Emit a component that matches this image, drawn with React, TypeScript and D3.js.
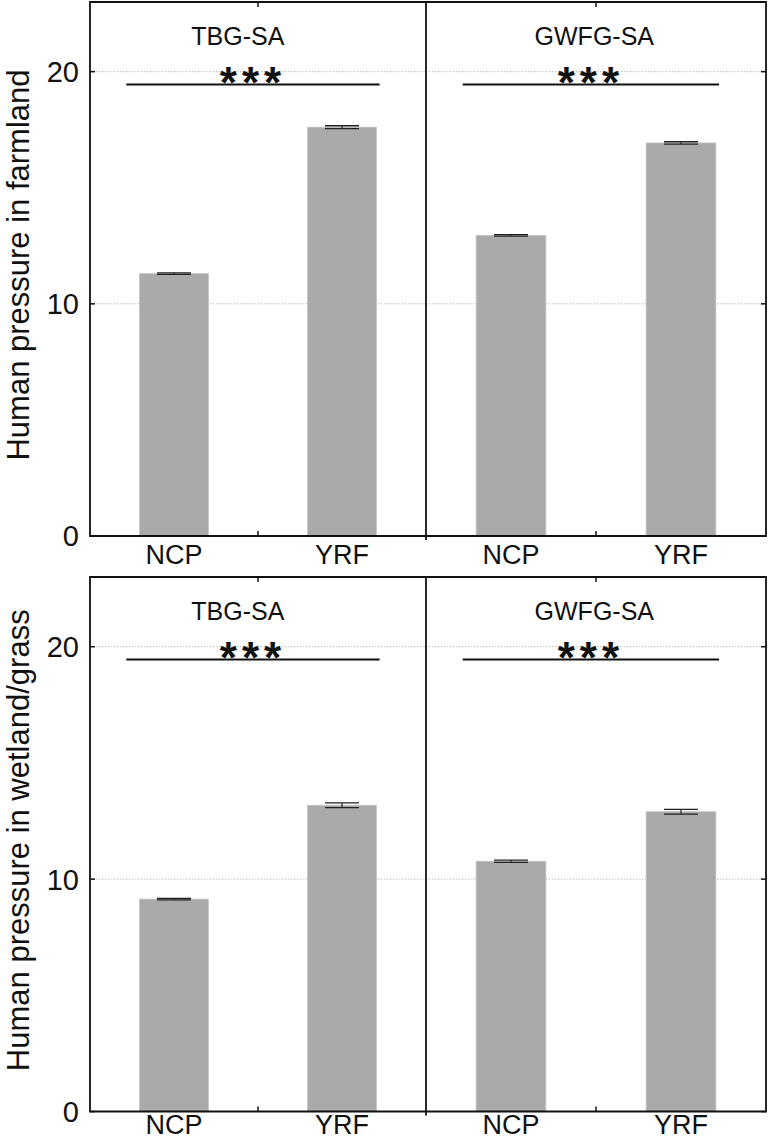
import React from "react";
import * as d3 from "d3";

const groups = ["TBG-SA", "GWFG-SA"];
const regions = ["NCP", "YRF"];
const rowLabels = ["Human pressure in farmland", "Human pressure in wetland/grass"];
// [row][group][region]
const farmlandMean = [[11.3, 17.61], [12.95, 16.93]];
const farmlandErr = [[0.03, 0.06], [0.03, 0.05]];
const wetlandMean = [[9.14, 13.18], [10.77, 12.9]];
const wetlandErr = [[0.03, 0.1], [0.05, 0.1]];
const sigLabels = [["***", "***"], ["***", "***"]];
const sigValue = 19.45;
const yTicks = [0, 10, 20];
const yMax = 23;

const means = [farmlandMean, wetlandMean];
const errs = [farmlandErr, wetlandErr];

const W = 768;
const H = 1140;
const xLeft = 90;
const xMid = 426;
const xRight = 766;
const rows = [
  { top: 2, bottom: 536, labelGap: 28 },
  { top: 577, bottom: 1111.5, labelGap: 22.5 },
];
const titleFrac = [0.44, 0.495];
const sigFrac = [0.108, 0.862];
const FONT = "'Liberation Sans', Arial, sans-serif";
const STROKE = "#111";

export default function App() {
  const panels = [
    [xLeft, xMid],
    [xMid, xRight],
  ];
  return (
    <svg width={W} height={H} style={{ display: "block", position: "absolute", left: 0, top: 0, background: "#fff" }}>
      <rect x={0} y={0} width={W} height={H} fill="#fff" />
      {rows.map((row, ri) => {
        const y = d3.scaleLinear().domain([0, yMax]).range([row.bottom, row.top]);
        const cy = (row.top + row.bottom) / 2 - 4;
        return (
          <g key={ri}>
            {/* gridlines */}
            {yTicks.filter((t) => t > 0).map((t) => (
              <line key={t} x1={xLeft} x2={xRight} y1={y(t)} y2={y(t)} stroke="#bdbdbd" strokeWidth={1} strokeDasharray="1.5,1.5" />
            ))}
            {/* y label */}
            <text
              transform={`translate(${29},${cy}) rotate(-90)`}
              textAnchor="middle"
              fontFamily={FONT}
              fontSize={31}
              fill="#111"
            >
              {rowLabels[ri]}
            </text>
            {/* y ticks labels */}
            {yTicks.map((t) => (
              <g key={t}>
                <text x={79} y={y(t)} dy="0.36em" textAnchor="end" fontFamily={FONT} fontSize={29} fill="#111">
                  {t}
                </text>
                <line x1={xLeft} x2={xLeft + 5} y1={y(t)} y2={y(t)} stroke={STROKE} strokeWidth={1.5} />
                <line x1={xRight - 5} x2={xRight} y1={y(t)} y2={y(t)} stroke={STROKE} strokeWidth={1.5} />
              </g>
            ))}
            {panels.map(([pl, pr], gi) => {
              const x = d3.scaleBand<string>().domain(regions).range([pl, pr]).paddingInner(0.59).paddingOuter(0.295);
              const pw = pr - pl;
              const mid = (pl + pr) / 2;
              const sx1 = pl + sigFrac[0] * pw;
              const sx2 = pl + sigFrac[1] * pw;
              return (
                <g key={gi}>
                  {regions.map((r, k) => {
                    const m = means[ri][gi][k];
                    const e = errs[ri][gi][k];
                    const bx = x(r)!;
                    const cx = bx + x.bandwidth() / 2;
                    return (
                      <g key={r}>
                        <rect x={bx} y={y(m)} width={x.bandwidth()} height={y(0) - y(m)} fill="#aaaaaa" stroke="#c4c4c4" strokeWidth={0.8} />
                        <line x1={cx} x2={cx} y1={y(m + e)} y2={y(m - e)} stroke="#222" strokeWidth={1.2} />
                        <line x1={cx - 17} x2={cx + 17} y1={y(m + e)} y2={y(m + e)} stroke="#222" strokeWidth={1.3} />
                        <line x1={cx - 17} x2={cx + 17} y1={y(m - e)} y2={y(m - e)} stroke="#222" strokeWidth={1.3} />
                        <text x={cx} y={row.bottom + row.labelGap} textAnchor="middle" fontFamily={FONT} fontSize={27} fill="#111">
                          {r}
                        </text>
                      </g>
                    );
                  })}
                  {/* mid ticks */}
                  <line x1={mid} x2={mid} y1={row.bottom} y2={row.bottom - 5} stroke={STROKE} strokeWidth={1.5} />
                  <line x1={mid} x2={mid} y1={row.top} y2={row.top + 5} stroke={STROKE} strokeWidth={1.5} />
                  {/* title */}
                  <text x={pl + titleFrac[gi] * pw} y={row.top + 43} textAnchor="middle" fontFamily={FONT} fontSize={25} fill="#111">
                    {groups[gi]}
                  </text>
                  {/* significance */}
                  <line x1={sx1} x2={sx2} y1={y(sigValue)} y2={y(sigValue)} stroke={STROKE} strokeWidth={2} />
                  <text
                    x={(sx1 + sx2) / 2}
                    y={y(sigValue) + 14}
                    textAnchor="middle"
                    fontFamily={FONT}
                    fontSize={44}
                    fontWeight="bold"
                    letterSpacing={5}
                    fill="#111"
                  >
                    {sigLabels[ri][gi]}
                  </text>
                </g>
              );
            })}
            {/* frame */}
            <path
              d={`M${xLeft},${row.bottom} V${row.top} H${xRight} V${row.bottom} Z`}
              fill="none"
              stroke={STROKE}
              strokeWidth={1.8}
            />
            <line x1={xMid} x2={xMid} y1={row.top} y2={row.bottom + 4} stroke={STROKE} strokeWidth={1.8} />
          </g>
        );
      })}
    </svg>
  );
}
